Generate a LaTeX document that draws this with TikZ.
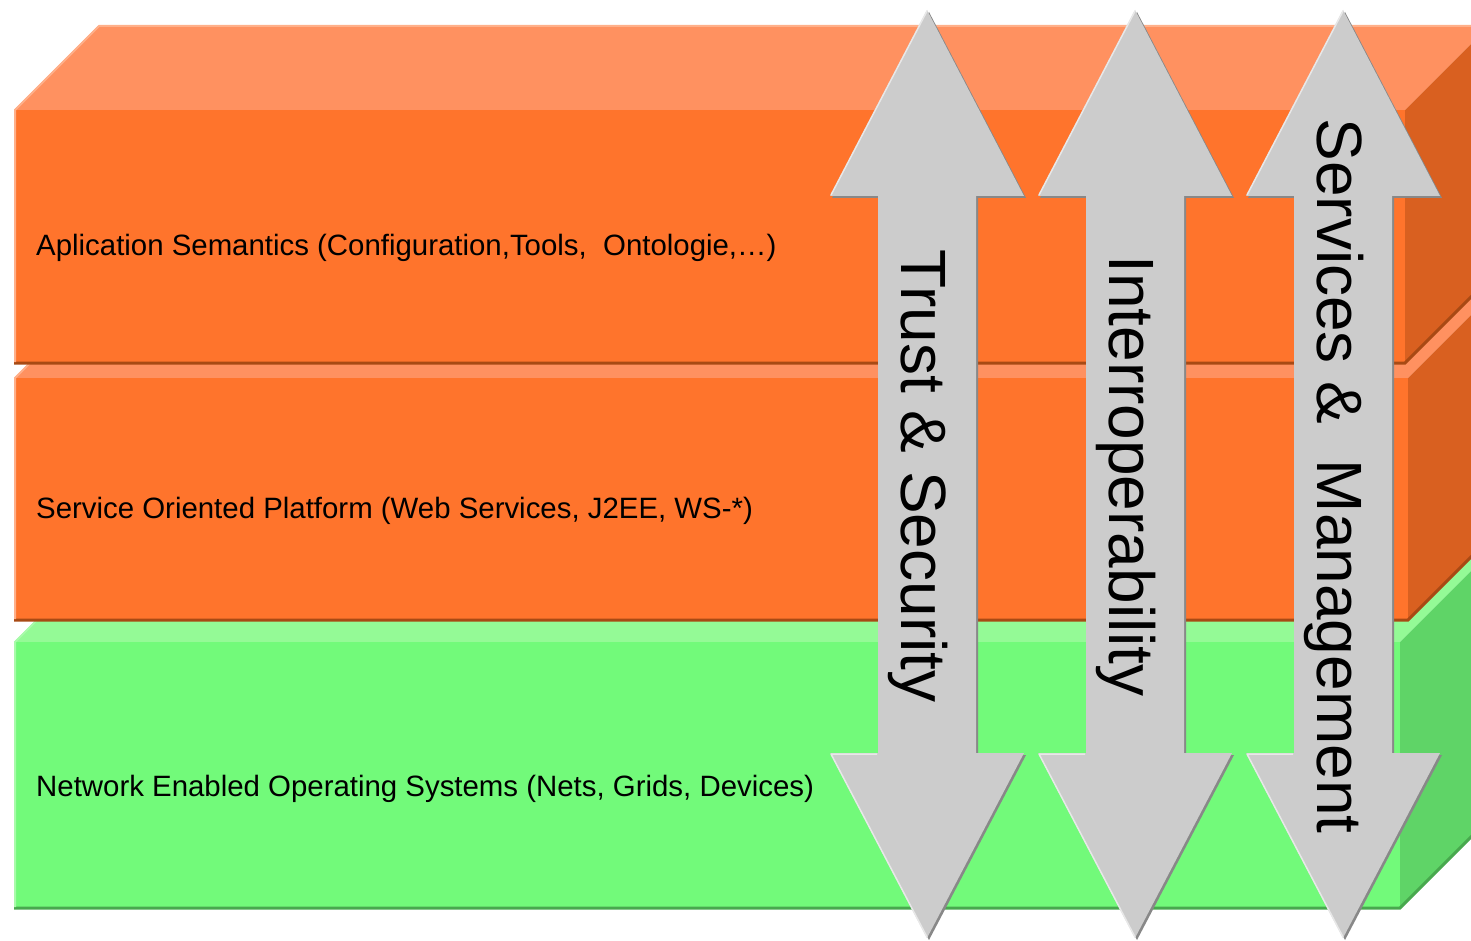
\documentclass[tikz,border=0pt]{standalone}
\usepackage{fontspec}
\setmainfont{Liberation Sans}
\definecolor{orfront}{HTML}{FF742C}
\definecolor{ortop}{HTML}{FF9160}
\definecolor{orside}{HTML}{D96020}
\definecolor{oredge}{HTML}{A84A14}
\definecolor{orlight}{HTML}{FFB08A}
\definecolor{grfront}{HTML}{72FA7A}
\definecolor{grtop}{HTML}{94FA96}
\definecolor{grside}{HTML}{5FD467}
\definecolor{gredge}{HTML}{48A84E}
\definecolor{grlight}{HTML}{A8FBAA}
\definecolor{arrowgray}{HTML}{CCCCCC}
\definecolor{arrowshade}{HTML}{888888}
\definecolor{arrowlight}{HTML}{E8E8E8}
\begin{document}
\begin{tikzpicture}[x=1pt,y=-1pt,
  layertext/.style={anchor=base west,inner sep=0pt,font=\fontsize{29.4}{34}\selectfont},
  arrowtext/.style={anchor=base,rotate=-90,inner sep=0pt,font=\fontsize{64}{70}\selectfont}]
\useasboundingbox (0,0) rectangle (1471,941);
\clip (0,0) rectangle (1471,941);
% Bottom layer (green)
\fill[grtop] (14,642) -- (98,558) -- (1484,558) -- (1400,642) -- cycle;
\fill[grside] (1400,642) -- (1484,558) -- (1484,824) -- (1400,908) -- cycle;
\fill[grfront] (14,642) rectangle (1400,908);
\draw[gredge,line width=3pt] (14,908) -- (1400,908) -- (1484,824);
\draw[grlight,line width=2pt] (15,907) -- (15,642) -- (99,558);
% Middle layer (orange)
\fill[ortop] (14,378) -- (98,294) -- (1492,294) -- (1408,378) -- cycle;
\fill[orside] (1408,378) -- (1492,294) -- (1492,536) -- (1408,620) -- cycle;
\fill[orfront] (14,378) rectangle (1408,620);
\draw[oredge,line width=3pt] (14,620) -- (1408,620) -- (1492,536);
\draw[orlight,line width=2pt] (15,619) -- (15,378) -- (99,294);
% Top layer (orange)
\fill[ortop] (14,110) -- (98,26) -- (1489,26) -- (1405,110) -- cycle;
\fill[orside] (1405,110) -- (1489,26) -- (1489,279) -- (1405,363) -- cycle;
\fill[orfront] (14,110) rectangle (1405,363);
\draw[oredge,line width=3pt] (14,363) -- (1405,363) -- (1489,279);
\draw[orlight,line width=2pt] (15,362) -- (15,110) -- (99,26) -- (1489,26);
% Layer labels
\node[layertext] (app) at (36,255) {Aplication Semantics (Configuration,Tools, \ Ontologie,\ldots)};
\node[layertext] (sop) at (36,518) {Service Oriented Platform (Web Services, J2EE, WS-*)};
\node[layertext] (neos) at (36,796) {Network Enabled Operating Systems (Nets, Grids, Devices)};
% Double arrows across the layers
\foreach \c in {927,1135,1343} {
  \begin{scope}[xshift=\c pt]
  \fill[arrowshade,xshift=2pt,yshift=-2pt] (0,10) -- (97,196) -- (49,196) -- (49,753) -- (97,753) -- (0,938)
    -- (-97,753) -- (-49,753) -- (-49,196) -- (-97,196) -- cycle;
  \fill[arrowgray] (0,10) -- (97,196) -- (49,196) -- (49,753) -- (97,753) -- (0,938)
    -- (-97,753) -- (-49,753) -- (-49,196) -- (-97,196) -- cycle;
  \draw[arrowlight,line width=1.5pt] (-96,195) -- (0,11);
  \draw[arrowlight,line width=1.5pt] (-96,754) -- (-50,754) (-96,754) -- (0,937);
  \end{scope}
}
% Arrow labels
\node[arrowtext] (trust) at (901,476) {Trust \& Security};
\node[arrowtext] (interop) at (1109,476) {Interroperability};
\node[arrowtext] (mgmt) at (1317,476) {Services \& \ Management};
\end{tikzpicture}
\end{document}
